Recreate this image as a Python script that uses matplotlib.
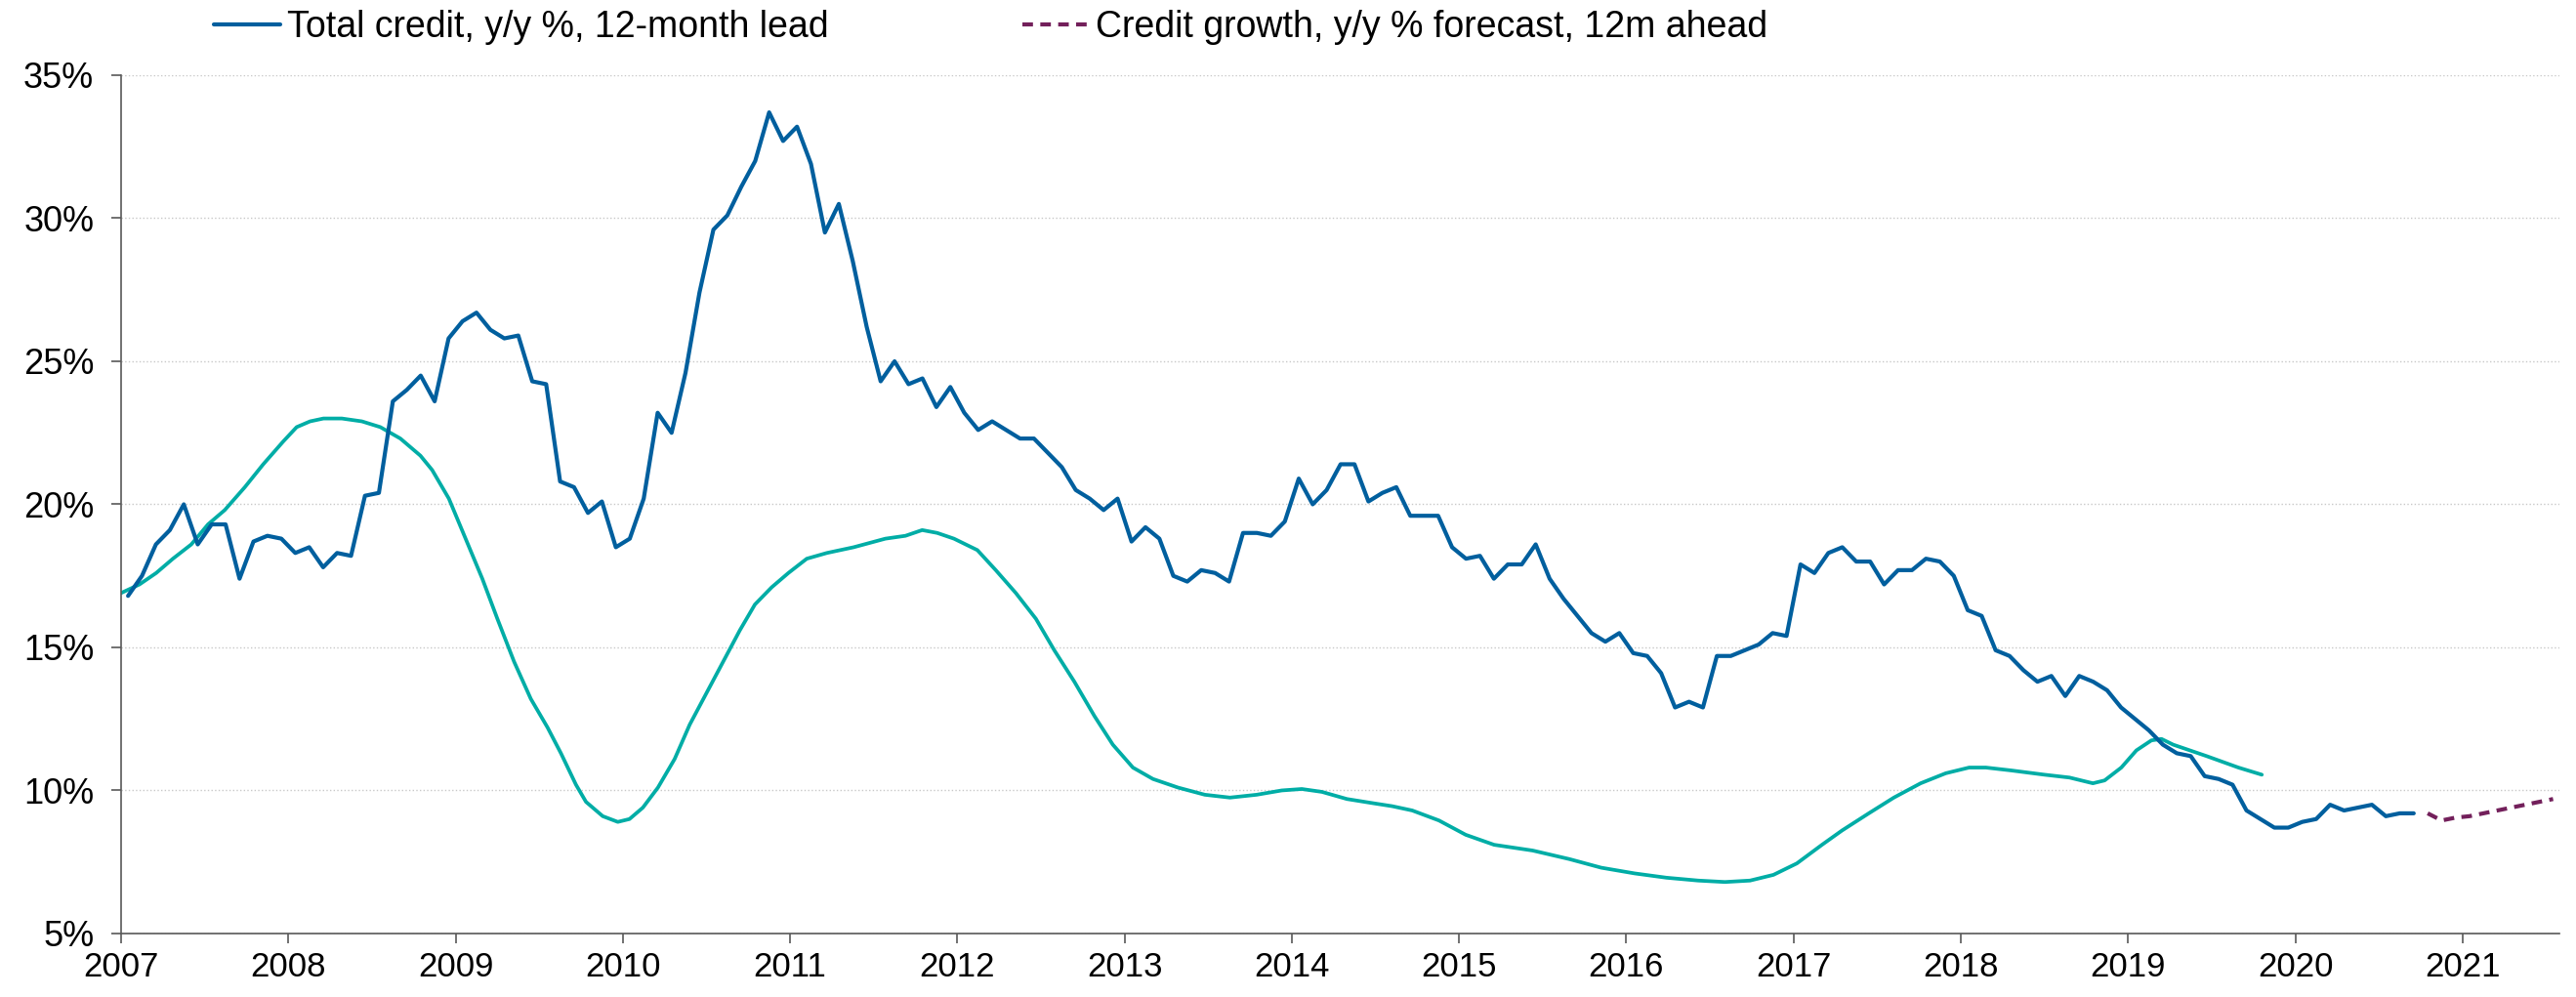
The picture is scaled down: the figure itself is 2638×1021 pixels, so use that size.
import numpy as np
import matplotlib
matplotlib.use("Agg")
import matplotlib.pyplot as plt

plt.rcParams['font.family'] = ['Liberation Sans', 'DejaVu Sans']

# Total credit, y/y %, 12-month lead (monthly, Jan 2007 - Sep 2020)
total_credit = [
    16.8, 17.5, 18.6, 19.1, 20.0, 18.6, 19.3, 19.3, 17.4, 18.7,
    18.9, 18.8, 18.3, 18.5, 17.8, 18.3, 18.2, 20.3, 20.4, 23.6,
    24.0, 24.5, 23.6, 25.8, 26.4, 26.7, 26.1, 25.8, 25.9, 24.3,
    24.2, 20.8, 20.6, 19.7, 20.1, 18.5, 18.8, 20.2, 23.2, 22.5,
    24.6, 27.4, 29.6, 30.1, 31.1, 32.0, 33.7, 32.7, 33.2, 31.9,
    29.5, 30.5, 28.5, 26.2, 24.3, 25.0, 24.2, 24.4, 23.4, 24.1,
    23.2, 22.6, 22.9, 22.6, 22.3, 22.3, 21.8, 21.3, 20.5, 20.2,
    19.8, 20.2, 18.7, 19.2, 18.8, 17.5, 17.3, 17.7, 17.6, 17.3,
    19.0, 19.0, 18.9, 19.4, 20.9, 20.0, 20.5, 21.4, 21.4, 20.1,
    20.4, 20.6, 19.6, 19.6, 19.6, 18.5, 18.1, 18.2, 17.4, 17.9,
    17.9, 18.6, 17.4, 16.7, 16.1, 15.5, 15.2, 15.5, 14.8, 14.7,
    14.1, 12.9, 13.1, 12.9, 14.7, 14.7, 14.9, 15.1, 15.5, 15.4,
    17.9, 17.6, 18.3, 18.5, 18.0, 18.0, 17.2, 17.7, 17.7, 18.1,
    18.0, 17.5, 16.3, 16.1, 14.9, 14.7, 14.2, 13.8, 14.0, 13.3,
    14.0, 13.8, 13.5, 12.9, 12.5, 12.1, 11.6, 11.3, 11.2, 10.5,
    10.4, 10.2, 9.3, 9.0, 8.7, 8.7, 8.9, 9.0, 9.5, 9.3,
    9.4, 9.5, 9.1, 9.2, 9.2,
]
credit_months = 2007 + (np.arange(len(total_credit)) + 0.5) / 12

# Forecast, Oct 2020 - Jul 2021
forecast = [9.2, 8.95, 9.05, 9.1, 9.2, 9.3, 9.4, 9.5, 9.6, 9.7]
forecast_months = 2020 + (np.arange(9, 9 + len(forecast)) + 0.5) / 12

# Leading indicator (teal)
lead_years = [
    2007.0, 2007.11, 2007.21, 2007.31, 2007.42, 2007.52, 2007.62, 2007.74, 2007.85, 2007.97,
    2008.05, 2008.13, 2008.21, 2008.32, 2008.44, 2008.55, 2008.67, 2008.79, 2008.86, 2008.96,
    2009.06, 2009.16, 2009.25, 2009.35, 2009.45, 2009.55, 2009.63, 2009.72, 2009.78, 2009.88,
    2009.97, 2010.04, 2010.12, 2010.21, 2010.31, 2010.4, 2010.5, 2010.6, 2010.7, 2010.79,
    2010.89, 2010.99, 2011.1, 2011.22, 2011.38, 2011.57, 2011.69, 2011.79, 2011.88, 2011.98,
    2012.12, 2012.23, 2012.35, 2012.47, 2012.58, 2012.7, 2012.82, 2012.93, 2013.05, 2013.17,
    2013.32, 2013.48, 2013.63, 2013.79, 2013.94, 2014.06, 2014.18, 2014.33, 2014.49, 2014.6,
    2014.72, 2014.88, 2015.04, 2015.21, 2015.44, 2015.66, 2015.85, 2016.05, 2016.24, 2016.43,
    2016.59, 2016.74, 2016.88, 2017.02, 2017.17, 2017.29, 2017.45, 2017.6, 2017.76, 2017.91,
    2018.05, 2018.15, 2018.3, 2018.5, 2018.65, 2018.79, 2018.86, 2018.96, 2019.05, 2019.14,
    2019.2, 2019.27, 2019.47, 2019.66, 2019.8,
]
lead_values = [
    16.9, 17.2, 17.6, 18.1, 18.6, 19.3, 19.8, 20.6, 21.4, 22.2,
    22.7, 22.9, 23.0, 23.0, 22.9, 22.7, 22.3, 21.7, 21.2, 20.2,
    18.8, 17.4, 16.0, 14.5, 13.2, 12.2, 11.3, 10.2, 9.6, 9.1,
    8.9, 9.0, 9.4, 10.1, 11.1, 12.3, 13.4, 14.5, 15.6, 16.5,
    17.1, 17.6, 18.1, 18.3, 18.5, 18.8, 18.9, 19.1, 19.0, 18.8,
    18.4, 17.7, 16.9, 16.0, 14.9, 13.8, 12.6, 11.6, 10.8, 10.4,
    10.1, 9.85, 9.75, 9.85, 10.0, 10.05, 9.95, 9.7, 9.55, 9.45,
    9.3, 8.95, 8.45, 8.1, 7.9, 7.6, 7.3, 7.1, 6.95, 6.85,
    6.8, 6.85, 7.05, 7.45, 8.1, 8.6, 9.2, 9.75, 10.25, 10.6,
    10.8, 10.8, 10.7, 10.55, 10.45, 10.25, 10.35, 10.8, 11.4, 11.75,
    11.8, 11.6, 11.2, 10.8, 10.55,
]

year_ticks = list(range(2007, 2022))
pct_ticks = [5, 10, 15, 20, 25, 30, 35]

fig = plt.figure(figsize=(26.38, 10.21), dpi=100)
ax = fig.add_axes([0.047, 0.0637, 0.9466, 0.8609])

ax.plot(lead_years, lead_values, color='#00ADA6', lw=2.7, solid_joinstyle='round',
        solid_capstyle='round')
ax.plot(credit_months, total_credit, color='#005F9E', lw=3.0, solid_joinstyle='round',
        solid_capstyle='round', label='Total credit, y/y %, 12-month lead')
ax.plot(forecast_months, forecast, color='#73205B', lw=3.0, linestyle=(0, (2.6, 1.8)),
        label='Credit growth, y/y % forecast, 12m ahead')

ax.set_xlim(2007, 2021.58)
ax.set_ylim(5, 35)
ax.set_xticks(year_ticks)
ax.set_xticklabels([str(y) for y in year_ticks])
ax.set_yticks(pct_ticks)
ax.set_yticklabels([f'{p}%' for p in pct_ticks])

ax.grid(axis='y', color='#c8c8c8', linestyle=':', lw=1.0)
ax.set_axisbelow(True)
for side in ['top', 'right']:
    ax.spines[side].set_visible(False)
for side in ['left', 'bottom']:
    ax.spines[side].set_color('#595959')
    ax.spines[side].set_linewidth(1.2)
ax.tick_params(axis='y', direction='out', length=7, width=1.2, color='#595959',
               labelsize=26, pad=13)
ax.tick_params(axis='x', direction='out', length=7, width=1.2, color='#595959',
               labelsize=25, pad=6)

fig.legend(loc='center left', bbox_to_anchor=(219 / 2638, 1 - 28 / 1021), ncol=2,
           frameon=False, fontsize=27, handlelength=1.8, handletextpad=0.2,
           columnspacing=5.3, borderpad=0, borderaxespad=0)

fig.savefig('out.png', dpi=100)
